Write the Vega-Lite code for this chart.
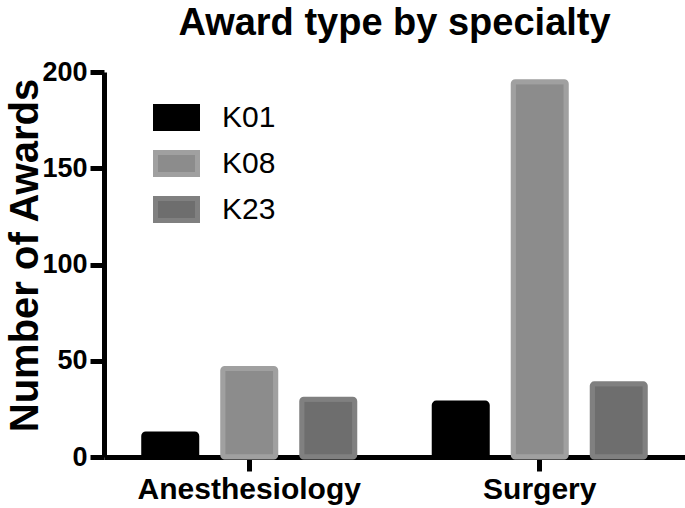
{
  "$schema": "https://vega.github.io/schema/vega-lite/v6.json",
  "width": 581,
  "height": 385,
  "autosize": "none",
  "padding": {"left": 104, "top": 72, "right": 0, "bottom": 51},
  "background": "white",
  "title": {
    "text": "Award type by specialty",
    "font": "Liberation Sans",
    "fontSize": 38,
    "fontWeight": "bold",
    "color": "black",
    "anchor": "middle",
    "frame": "group",
    "baseline": "alphabetic",
    "offset": -15
  },
  "data": {
    "values": [
      {"specialty": "Anesthesiology", "award": "K01", "count": 12},
      {"specialty": "Anesthesiology", "award": "K08", "count": 46},
      {"specialty": "Anesthesiology", "award": "K23", "count": 30},
      {"specialty": "Surgery", "award": "K01", "count": 28},
      {"specialty": "Surgery", "award": "K08", "count": 195},
      {"specialty": "Surgery", "award": "K23", "count": 38}
    ]
  },
  "config": {
    "view": {"stroke": null},
    "axis": {
      "domainColor": "black",
      "domainWidth": 5,
      "tickColor": "black",
      "tickWidth": 5,
      "tickSize": 14,
      "grid": false,
      "labelFont": "Liberation Sans",
      "labelFontWeight": "bold",
      "labelColor": "black",
      "labelLimit": 0,
      "titleFont": "Liberation Sans",
      "titleFontWeight": "bold",
      "titleColor": "black"
    }
  },
  "mark": {"type": "bar", "strokeWidth": 5, "cornerRadius": 2, "strokeJoin": "round"},
  "encoding": {
    "x": {
      "field": "specialty",
      "type": "nominal",
      "sort": ["Anesthesiology", "Surgery"],
      "scale": {"paddingInner": 0, "paddingOuter": 0},
      "axis": {"title": null, "labelAngle": 0, "labelFontSize": 30, "labelPadding": 3}
    },
    "xOffset": {
      "field": "award",
      "type": "nominal",
      "sort": ["K01", "K08", "K23"],
      "scale": {"paddingInner": 0.329, "paddingOuter": 0.503}
    },
    "y": {
      "field": "count",
      "type": "quantitative",
      "scale": {"domain": [0, 200], "nice": false},
      "axis": {
        "title": "Number of Awards",
        "values": [0, 50, 100, 150, 200],
        "labelFontSize": 27,
        "labelPadding": 3,
        "titleFontSize": 40,
        "titleBaseline": "alphabetic",
        "titleX": -67,
        "titleY": 183
      }
    },
    "fill": {
      "field": "award",
      "type": "nominal",
      "scale": {"domain": ["K01", "K08", "K23"], "range": ["#000000", "#8c8c8c", "#6e6e6e"]},
      "legend": {
        "title": null,
        "orient": "none",
        "legendX": 52.5,
        "legendY": 25.5,
        "symbolType": "M-1.2,-0.629H1.2V0.629H-1.2Z",
        "symbolSize": 1225,
        "symbolStrokeWidth": 5,
        "symbolOpacity": 1,
        "labelFont": "Liberation Sans",
        "labelFontSize": 30,
        "labelColor": "black",
        "labelOffset": 25.5,
        "rowPadding": 2
      }
    },
    "stroke": {
      "field": "award",
      "type": "nominal",
      "scale": {"domain": ["K01", "K08", "K23"], "range": ["#000000", "#a0a0a0", "#808080"]}
    }
  }
}
